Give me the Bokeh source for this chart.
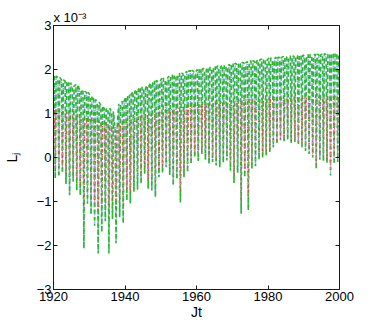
from bokeh.plotting import figure
from bokeh.models import Range1d, FixedTicker, LinearAxis, Title
from bokeh.embed import file_html
from bokeh.resources import INLINE

# ---- data (values in units of 1e-3) ----
years = list(range(1920, 2000))

green_max = [1.85, 1.82, 1.76, 1.74, 1.70, 1.62, 1.66, 1.55, 1.50, 1.48,
             1.40, 1.32, 1.26, 1.18, 1.10, 1.12, 1.05, 0.62, 1.22, 1.28,
             1.38, 1.44, 1.50, 1.55, 1.60, 1.58, 1.64, 1.70, 1.75, 1.72,
             1.80, 1.78, 1.85, 1.88, 1.84, 1.92, 1.90, 1.96, 1.98, 1.95,
             2.00, 2.03, 2.00, 2.05, 2.03, 2.08, 2.06, 2.10, 2.08, 2.12,
             2.14, 2.12, 2.16, 2.15, 2.18, 2.20, 2.18, 2.22, 2.24, 2.21,
             2.26, 2.24, 2.28, 2.27, 2.30, 2.28, 2.31, 2.30, 2.32, 2.33,
             2.31, 2.34, 2.32, 2.35, 2.33, 2.36, 2.34, 2.37, 2.35, 2.38]
green_min = [-0.48, -0.44, -0.35, -0.60, -0.86, -0.55, -0.75, -0.86, -2.07, -1.05,
             -1.30, -1.55, -2.18, -1.70, -1.45, -2.18, -1.40, -1.95, -1.36, -1.50,
             -0.98, -1.05, -0.78, -0.73, -0.60, -0.37, -0.71, -0.75, -0.90, -0.45,
             -0.35, -0.22, -0.40, -0.64, -0.50, -1.02, -0.45, -0.33, -0.15, 0.00,
             -0.08, 0.08, -0.05, -0.15, -0.10, -0.18, -0.22, -0.12, -0.07, -0.30,
             -0.58, -0.35, -1.28, -0.45, -1.20, -0.26, -0.20, -0.05, 0.00, 0.05,
             0.12, 0.23, 0.30, 0.39, 0.36, 0.40, 0.33, 0.35, 0.28, 0.23,
             0.15, 0.08, 0.00, -0.26, -0.05, -0.08, -0.12, -0.41, -0.15, -0.10]
blue_max = [1.79, 1.76, 1.70, 1.68, 1.64, 1.56, 1.60, 1.49, 1.44, 1.42,
            1.34, 1.26, 1.20, 1.12, 1.04, 1.06, 0.99, 0.58, 1.16, 1.22,
            1.32, 1.38, 1.44, 1.49, 1.54, 1.52, 1.58, 1.64, 1.69, 1.66,
            1.74, 1.72, 1.79, 1.82, 1.78, 1.86, 1.84, 1.90, 1.92, 1.89,
            1.94, 1.97, 1.94, 1.99, 1.97, 2.02, 2.00, 2.04, 2.02, 2.06,
            2.08, 2.06, 2.10, 2.09, 2.12, 2.14, 2.12, 2.16, 2.18, 2.15,
            2.20, 2.18, 2.22, 2.21, 2.24, 2.22, 2.25, 2.24, 2.26, 2.27,
            2.25, 2.28, 2.26, 2.29, 2.27, 2.30, 2.28, 2.31, 2.29, 2.32]
blue_min = [-0.45, -0.41, -0.32, -0.57, -0.83, -0.52, -0.72, -0.83, -2.03, -1.02,
            -1.27, -1.52, -2.14, -1.67, -1.42, -2.14, -1.37, -1.91, -1.33, -1.47,
            -0.95, -1.02, -0.75, -0.70, -0.57, -0.34, -0.68, -0.72, -0.87, -0.42,
            -0.32, -0.19, -0.37, -0.61, -0.47, -0.99, -0.42, -0.30, -0.12, 0.03,
            -0.05, 0.11, -0.02, -0.12, -0.07, -0.15, -0.19, -0.09, -0.04, -0.27,
            -0.55, -0.32, -1.24, -0.42, -1.16, -0.23, -0.17, -0.02, 0.03, 0.08,
            0.15, 0.26, 0.33, 0.42, 0.39, 0.43, 0.36, 0.38, 0.31, 0.26,
            0.18, 0.11, 0.03, -0.23, -0.02, -0.05, -0.09, -0.38, -0.12, -0.07]
red_max = [1.08, 1.06, 1.05, 1.03, 1.00, 0.98, 0.96, 0.93, 0.90, 0.88,
           0.85, 0.82, 0.80, 0.78, 0.75, 0.72, 0.70, 0.72, 0.75, 0.78,
           0.82, 0.85, 0.88, 0.90, 0.93, 0.95, 0.98, 1.00, 1.02, 1.04,
           1.05, 1.07, 1.08, 1.10, 1.11, 1.13, 1.14, 1.15, 1.17, 1.18,
           1.19, 1.20, 1.21, 1.22, 1.23, 1.24, 1.25, 1.26, 1.27, 1.28,
           1.28, 1.29, 1.30, 1.30, 1.31, 1.31, 1.32, 1.32, 1.33, 1.33,
           1.33, 1.34, 1.34, 1.34, 1.35, 1.35, 1.35, 1.35, 1.36, 1.36,
           1.36, 1.36, 1.36, 1.37, 1.37, 1.37, 1.37, 1.37, 1.38, 1.38]
red_min = [-0.30, -0.28, -0.20, -0.40, -0.60, -0.38, -0.52, -0.62, -1.10, -0.78,
           -0.95, -1.05, -1.20, -1.10, -1.00, -1.15, -0.98, -1.10, -0.95, -1.02,
           -0.72, -0.78, -0.55, -0.52, -0.42, -0.22, -0.50, -0.52, -0.65, -0.30,
           -0.22, -0.10, -0.26, -0.45, -0.34, -0.75, -0.30, -0.20, -0.05, 0.08,
           0.02, 0.16, 0.04, -0.05, 0.00, -0.08, -0.12, -0.03, 0.02, -0.18,
           -0.42, -0.22, -0.95, -0.32, -0.90, -0.15, -0.10, 0.04, 0.08, 0.12,
           0.18, 0.28, 0.35, 0.43, 0.40, 0.44, 0.38, 0.40, 0.33, 0.28,
           0.20, 0.14, 0.06, -0.16, 0.03, 0.00, -0.04, -0.30, -0.06, -0.02]
pink_max = [0.98, 0.96, 0.95, 0.93, 0.90, 0.88, 0.86, 0.83, 0.80, 0.78,
            0.75, 0.72, 0.70, 0.68, 0.65, 0.62, 0.60, 0.62, 0.65, 0.68,
            0.72, 0.75, 0.78, 0.80, 0.83, 0.85, 0.88, 0.90, 0.92, 0.94,
            0.95, 0.97, 0.98, 1.00, 1.01, 1.03, 1.04, 1.05, 1.07, 1.08,
            1.09, 1.10, 1.11, 1.12, 1.13, 1.14, 1.15, 1.16, 1.17, 1.18,
            1.18, 1.19, 1.20, 1.20, 1.21, 1.21, 1.22, 1.22, 1.23, 1.23,
            1.23, 1.24, 1.24, 1.24, 1.25, 1.25, 1.25, 1.25, 1.26, 1.26,
            1.26, 1.26, 1.26, 1.27, 1.27, 1.27, 1.27, 1.27, 1.28, 1.28]
pink_min = [-0.25, -0.23, -0.15, -0.35, -0.55, -0.33, -0.47, -0.57, -1.00, -0.72,
            -0.88, -0.98, -1.10, -1.02, -0.92, -1.05, -0.90, -1.00, -0.88, -0.95,
            -0.66, -0.72, -0.50, -0.47, -0.37, -0.18, -0.45, -0.47, -0.60, -0.26,
            -0.18, -0.06, -0.22, -0.40, -0.30, -0.68, -0.26, -0.16, -0.01, 0.12,
            0.06, 0.20, 0.08, -0.01, 0.04, -0.04, -0.08, 0.01, 0.06, -0.14,
            -0.37, -0.18, -0.88, -0.28, -0.82, -0.11, -0.06, 0.08, 0.12, 0.16,
            0.22, 0.32, 0.39, 0.47, 0.44, 0.48, 0.42, 0.44, 0.37, 0.32,
            0.24, 0.18, 0.10, -0.12, 0.07, 0.04, 0.00, -0.26, -0.02, 0.02]

x_ticks = [1920, 1940, 1960, 1980, 2000]
y_ticks = [-3, -2, -1, 0, 1, 2, 3]
y_tick_labels = ["\u22123", "\u22122", "\u22121", "0", "1", "2", "3"]

FONT = "Liberation Sans"

p = figure(width=366, height=323, output_backend="svg", toolbar_location=None,
           x_range=Range1d(1920, 2000), y_range=Range1d(-3, 3),
           min_border_left=49, min_border_right=27, min_border_top=25,
           min_border_bottom=34, background_fill_color="white",
           border_fill_color="white")
p.xgrid.visible = False
p.ygrid.visible = False
p.outline_line_color = None


def spikes(mx, mn):
    # each year: level before the dip, the dip, level after the dip
    xs, ys = [], []
    for yr, a, b in zip(years, mx, mn):
        xs += [yr + 0.25, yr + 0.5, yr + 0.75]
        ys += [a, b, a]
    return xs, ys


for mx, mn, col, w, dash in [
    (blue_max, blue_min, "#8fb0f5", 1.5, "2 2"),
    (green_max, green_min, "#2cb82c", 1.6, "4 3"),
    (red_max, red_min, "#e8443a", 1.0, "1 3"),
    (pink_max, pink_min, "#ea8fd6", 1.0, "1 4"),
]:
    xs, ys = spikes(mx, mn)
    p.line(xs, ys, line_color=col, line_width=w, line_dash=dash)


def style_axis(ax, show_labels, standoff):
    ax.axis_line_color = "#1a1a1a"
    ax.major_tick_line_color = "#1a1a1a"
    ax.major_tick_in = 4
    ax.major_tick_out = 0
    ax.minor_tick_line_color = None
    ax.major_label_text_font = FONT
    ax.major_label_standoff = standoff
    ax.axis_label_text_font = FONT
    ax.axis_label_text_font_style = "normal"
    ax.axis_label_text_color = "#000000"
    if show_labels:
        ax.major_label_text_font_size = "13px"
        ax.major_label_text_color = "#000000"
    else:
        ax.major_label_text_font_size = "0px"
        ax.major_label_text_color = None


xa = p.xaxis[0]
xa.ticker = FixedTicker(ticks=x_ticks)
style_axis(xa, True, 2)
xa.axis_label = "Jt"
xa.axis_label_text_font_size = "14px"
xa.axis_label_standoff = 0

ya = p.yaxis[0]
ya.ticker = FixedTicker(ticks=y_ticks)
ya.major_label_overrides = {t: s for t, s in zip(y_ticks, y_tick_labels)}
style_axis(ya, True, 2)
ya.axis_label = "L\u2C7C"
ya.axis_label_text_font_size = "14px"
ya.axis_label_standoff = 14

top = LinearAxis(ticker=FixedTicker(ticks=x_ticks))
style_axis(top, False, 0)
p.add_layout(top, "above")
right = LinearAxis(ticker=FixedTicker(ticks=y_ticks))
style_axis(right, False, 0)
p.add_layout(right, "right")

p.add_layout(Title(text="x 10\u207B\u00B3", align="left", standoff=2,
                   text_font=FONT, text_font_size="13px",
                   text_font_style="normal", text_color="#000000"), "above")

open("out.html", "w").write(file_html(p, INLINE))
